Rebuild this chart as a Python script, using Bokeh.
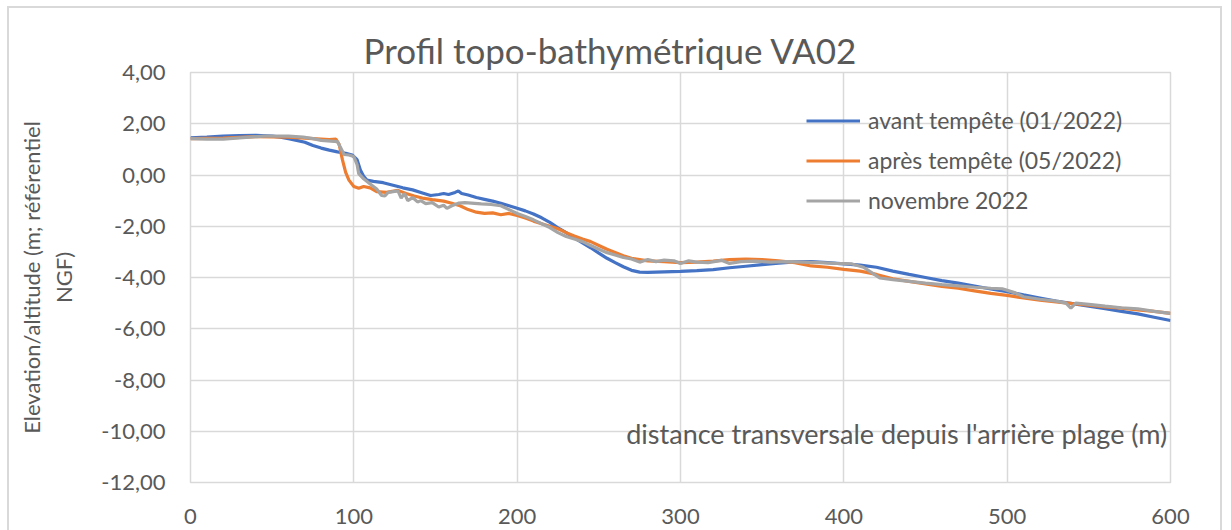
from bokeh.plotting import figure
from bokeh.models import (Range1d, FixedTicker, CustomJSTickFormatter, Legend, LegendItem,
                          Label, Title)
from bokeh.embed import file_html
from bokeh.resources import INLINE

# ---------------- data ----------------
series_names = ["avant tempête (01/2022)", "après tempête (05/2022)", "novembre 2022"]
series_colors = ["#4472C4", "#ED7D31", "#A5A5A5"]

x_avant = [0, 10, 20, 30, 40, 50, 55, 60, 65, 70, 75, 80, 85, 90, 95, 99, 102, 104, 106, 108,
           112, 118, 124, 130, 136, 142, 147, 152, 155, 158, 162, 164, 166, 170, 175, 180, 185,
           190, 195, 200, 205, 210, 215, 220, 225, 230, 235, 240, 245, 250, 255, 260, 265, 270,
           275, 280, 290, 300, 310, 320, 330, 340, 350, 360, 370, 380, 390, 400, 410, 420, 430,
           440, 450, 460, 470, 480, 490, 500, 510, 520, 530, 540, 550, 560, 570, 580, 590, 600]
y_avant = [1.45, 1.48, 1.52, 1.54, 1.55, 1.52, 1.48, 1.42, 1.35, 1.28, 1.15, 1.05, 0.97, 0.90,
           0.85, 0.78, 0.60, 0.20, -0.05, -0.20, -0.25, -0.30, -0.40, -0.50, -0.58, -0.70, -0.80,
           -0.76, -0.72, -0.76, -0.68, -0.62, -0.72, -0.78, -0.88, -0.95, -1.02, -1.10, -1.20,
           -1.30, -1.40, -1.52, -1.67, -1.85, -2.06, -2.25, -2.45, -2.65, -2.84, -3.05, -3.25,
           -3.42, -3.58, -3.72, -3.79, -3.80, -3.78, -3.76, -3.73, -3.69, -3.62, -3.56, -3.50,
           -3.44, -3.39, -3.38, -3.42, -3.47, -3.52, -3.60, -3.75, -3.88, -4.00, -4.12, -4.22,
           -4.33, -4.45, -4.55, -4.68, -4.80, -4.92, -5.02, -5.12, -5.22, -5.32, -5.42, -5.55,
           -5.68]

x_apres = [0, 20, 40, 60, 75, 85, 89, 91, 93, 95, 97, 100, 103, 106, 110, 114, 120, 127, 132,
           137, 142, 148, 155, 160, 165, 170, 175, 180, 185, 190, 195, 200, 205, 210, 215, 220,
           225, 230, 235, 240, 245, 250, 255, 260, 265, 270, 275, 280, 290, 300, 310, 320, 330,
           340, 350, 360, 370, 380, 390, 400, 410, 420, 430, 440, 450, 460, 470, 480, 490, 500,
           510, 520, 530, 540, 550, 560, 570, 580, 590, 600]
y_apres = [1.42, 1.44, 1.50, 1.48, 1.42, 1.38, 1.40, 1.20, 0.60, 0.10, -0.20, -0.45, -0.52,
           -0.45, -0.50, -0.65, -0.68, -0.60, -0.72, -0.82, -0.90, -0.96, -1.02, -1.10, -1.20,
           -1.35, -1.45, -1.50, -1.48, -1.55, -1.50, -1.58, -1.68, -1.80, -1.90, -2.00, -2.10,
           -2.25, -2.38, -2.50, -2.60, -2.75, -2.90, -3.02, -3.15, -3.25, -3.30, -3.35, -3.38,
           -3.42, -3.40, -3.36, -3.30, -3.28, -3.30, -3.35, -3.42, -3.55, -3.60, -3.68, -3.75,
           -3.88, -4.05, -4.15, -4.25, -4.35, -4.42, -4.52, -4.62, -4.70, -4.80, -4.88, -4.95,
           -5.02, -5.08, -5.15, -5.20, -5.26, -5.32, -5.40]

x_nov = [0, 10, 20, 30, 45, 60, 69, 75, 80, 86, 90, 92, 94, 97, 100, 102, 103, 106, 110, 114,
         117, 119, 121, 124, 127, 129, 131, 133, 136, 139, 141, 144, 148, 152, 155, 157, 160,
         164, 168, 172, 178, 184, 190, 195, 200, 205, 210, 215, 220, 225, 230, 235, 240, 245,
         250, 255, 260, 265, 270, 275, 280, 285, 290, 296, 300, 305, 310, 317, 325, 330, 337,
         345, 355, 365, 375, 385, 395, 405, 412, 418, 422, 430, 440, 450, 460, 470, 480, 490,
         497, 505, 510, 520, 530, 536, 539, 542, 550, 560, 570, 580, 590, 600]
y_nov = [1.42, 1.40, 1.40, 1.45, 1.52, 1.52, 1.48, 1.42, 1.35, 1.32, 1.30, 1.05, 0.80, 0.78,
         0.72, 0.40, 0.05, -0.15, -0.35, -0.55, -0.80, -0.82, -0.68, -0.65, -0.62, -0.90,
         -0.72, -1.00, -0.88, -1.05, -1.00, -1.12, -1.08, -1.25, -1.18, -1.30, -1.20, -1.10,
         -1.08, -1.10, -1.13, -1.15, -1.20, -1.35, -1.50, -1.62, -1.75, -1.90, -2.05, -2.25,
         -2.40, -2.50, -2.60, -2.75, -2.90, -3.03, -3.12, -3.22, -3.28, -3.40, -3.30, -3.38,
         -3.32, -3.35, -3.45, -3.35, -3.40, -3.42, -3.33, -3.45, -3.38, -3.36, -3.40, -3.38,
         -3.40, -3.42, -3.45, -3.47, -3.60, -3.85, -4.02, -4.08, -4.15, -4.22, -4.28, -4.33,
         -4.38, -4.42, -4.44, -4.60, -4.75, -4.85, -4.92, -5.00, -5.20, -5.00, -5.05, -5.12,
         -5.18, -5.22, -5.32, -5.40]

x_ticks = [0, 100, 200, 300, 400, 500, 600]
y_ticks = [4, 2, 0, -2, -4, -6, -8, -10, -12]

title_text = "Profil topo-bathymétrique VA02"
y_title = "Elevation/altitude (m; référentiel\nNGF)"
x_title = "distance transversale depuis l'arrière plage (m)"

# ---------------- figure ----------------
FONT = "Lato"
TXT = "#595959"
GRID = "#D9D9D9"

p = figure(width=1230, height=530, output_backend="svg", toolbar_location=None,
           x_range=Range1d(0, 600), y_range=Range1d(-12, 4),
           min_border_left=190, min_border_right=60, min_border_top=72, min_border_bottom=48)
p.title = None
p.add_layout(Title(text=title_text, align="left", offset=173, text_font=FONT,
                   text_font_size="35px", text_font_style="normal", text_color=TXT,
                   standoff=4), "above")

p.outline_line_color = GRID
p.outline_line_width = 1.5
p.stylesheets = [":host { position: relative; }"
                 ":host::after { content: ''; position: absolute; left: 7px; top: 6px; "
                 "right: 8px; bottom: -30px; border: 2px solid #D9D9D9; pointer-events: none; }"]

p.xaxis.ticker = FixedTicker(ticks=x_ticks)
p.yaxis.ticker = FixedTicker(ticks=y_ticks)
p.yaxis.formatter = CustomJSTickFormatter(code="return tick.toFixed(2).replace('.', ',');")
p.xaxis.formatter = CustomJSTickFormatter(code="return tick.toFixed(0);")

for ax in (p.xaxis[0], p.yaxis[0]):
    ax.axis_line_color = None
    ax.major_tick_line_color = None
    ax.minor_tick_line_color = None
    ax.major_label_text_font = FONT
    ax.major_label_text_font_size = "22px"
    ax.major_label_text_color = TXT
p.yaxis.major_label_standoff = 19
p.xaxis.major_label_standoff = 20

p.yaxis.axis_label = y_title
p.yaxis.axis_label_text_font = FONT
p.yaxis.axis_label_text_font_size = "22px"
p.yaxis.axis_label_text_font_style = "normal"
p.yaxis.axis_label_text_color = TXT
p.yaxis.axis_label_standoff = 21

p.xgrid.ticker = FixedTicker(ticks=x_ticks)
p.ygrid.ticker = FixedTicker(ticks=y_ticks)
p.grid.grid_line_color = GRID
p.grid.grid_line_width = 1.5

renderers = []
for xs, ys, col in ((x_avant, y_avant, series_colors[0]),
                    (x_apres, y_apres, series_colors[1]),
                    (x_nov, y_nov, series_colors[2])):
    r = p.line(xs, ys, line_color=col, line_width=3.2)
    renderers.append(r)

legend = Legend(items=[LegendItem(label=n, renderers=[r]) for n, r in zip(series_names, renderers)],
                location=(616, 268), orientation="vertical",
                label_text_font=FONT, label_text_font_size="23px", label_text_color=TXT,
                glyph_width=54, glyph_height=25, label_height=25, label_standoff=8,
                spacing=12, padding=0, margin=0,
                background_fill_alpha=0, border_line_color=None)
p.add_layout(legend)

p.add_layout(Label(x=598, y=-10.1, text=x_title, text_align="right", text_baseline="middle",
                   text_font=FONT, text_font_size="27px", text_color=TXT))

open("out.html", "w").write(file_html(p, INLINE))
